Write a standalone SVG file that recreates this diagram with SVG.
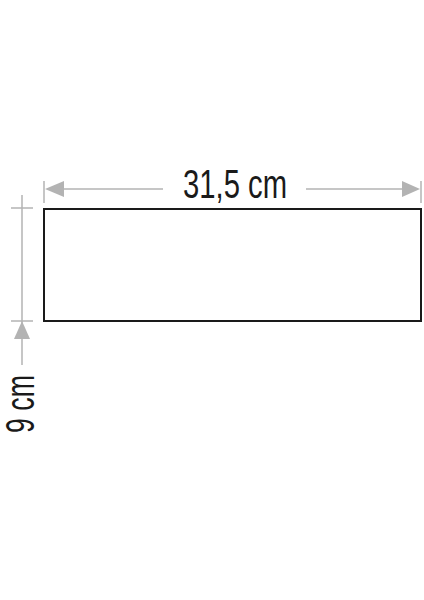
<svg xmlns="http://www.w3.org/2000/svg" width="424" height="600" viewBox="0 0 424 600">
<style>
.dim{stroke:#b3b3b3;stroke-width:1.5;fill:none}
.ah{fill:#b3b3b3}
.lbl{font-family:"Liberation Sans",Arial,sans-serif;font-size:41px;fill:#1a1a1a}
</style>
<rect width="424" height="600" fill="#ffffff"/>
<g id="panel">
<rect x="44" y="209" width="377" height="112" fill="#ffffff" stroke="#1a1a1a" stroke-width="2"/>
</g>
<g id="connectors">
<line class="dim" x1="44" y1="181" x2="44" y2="203"/>
<line class="dim" x1="421" y1="181" x2="421" y2="203"/>
<line class="dim" x1="63" y1="189" x2="163" y2="189"/>
<line class="dim" x1="306" y1="189" x2="403" y2="189"/>
<polygon class="ah" points="45,189 64,181 64,197"/>
<polygon class="ah" points="420,189 402,181 402,197"/>
<line class="dim" x1="11" y1="208" x2="33" y2="208"/>
<line class="dim" x1="11" y1="321" x2="33" y2="321"/>
<line class="dim" x1="22" y1="195" x2="22" y2="365"/>
<polygon class="ah" points="22,321 14,339 30,339"/>
</g>
<g id="width-label">
<text class="lbl" x="183" y="198" textLength="104" lengthAdjust="spacingAndGlyphs">31,5 cm</text>
</g>
<g id="height-label">
<text class="lbl" transform="translate(34,433) rotate(-90)" x="0" y="0" textLength="58" lengthAdjust="spacingAndGlyphs">9 cm</text>
</g>
</svg>
